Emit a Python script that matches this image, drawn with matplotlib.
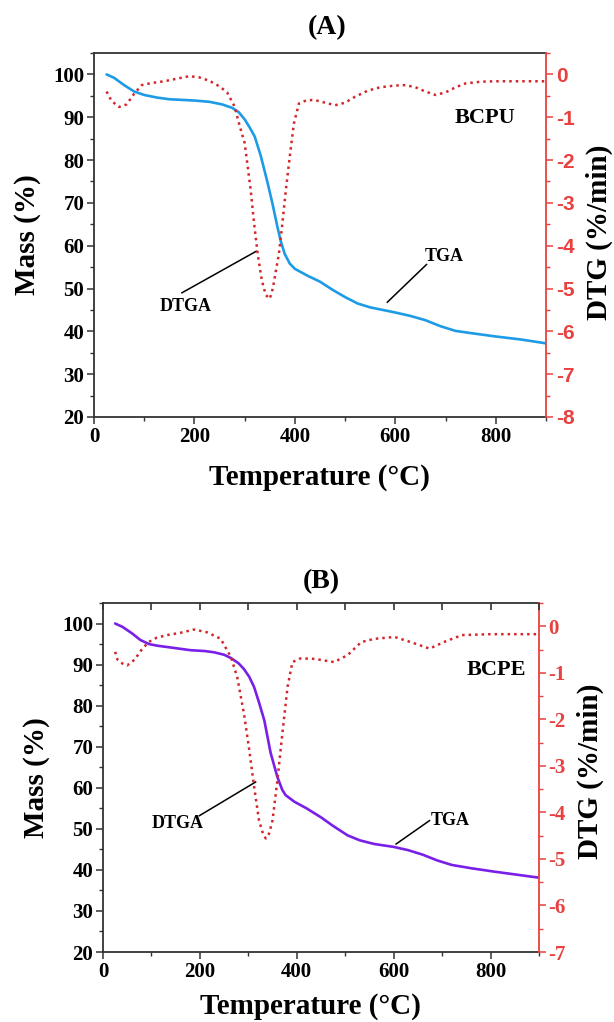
import matplotlib
matplotlib.use("Agg")
import matplotlib.pyplot as plt
from matplotlib.ticker import MultipleLocator

plt.rcParams['font.family'] = ['Liberation Serif', 'DejaVu Serif']
plt.rcParams['font.weight'] = 'bold'
plt.rcParams['axes.unicode_minus'] = False

# ---- panel A: BCPU ----
temp_a = [25, 40, 60, 80, 100, 125, 150, 200, 230, 255, 275, 288, 300, 310, 320,
          332, 345, 355, 365, 372, 380, 390, 400, 425, 450, 475, 500, 525, 550,
          600, 630, 660, 690, 720, 750, 800, 850, 900]
mass_a = [100.0, 99.2, 97.5, 96.0, 95.2, 94.6, 94.2, 93.9, 93.6, 93.0, 92.2, 91.2,
          89.5, 87.6, 85.5, 81.0, 75.0, 70.0, 64.5, 61.0, 58.0, 55.8, 54.6, 53.0,
          51.6, 49.7, 48.0, 46.5, 45.6, 44.4, 43.6, 42.6, 41.2, 40.1, 39.6, 38.8,
          38.1, 37.2]
dtg_t_a = [25, 35, 50, 65, 80, 95, 115, 140, 165, 190, 210, 230, 250, 265, 280,
           290, 300, 312, 319, 326, 334, 342, 350, 356, 362, 368, 374, 382, 390,
           398, 408, 424, 440, 460, 480, 500, 520, 545, 570, 600, 620, 640, 660,
           680, 700, 720, 740, 770, 800, 850, 900]
dtg_a = [-0.40, -0.62, -0.76, -0.70, -0.45, -0.25, -0.20, -0.16, -0.10, -0.04,
         -0.07, -0.15, -0.28, -0.42, -0.75, -1.2, -1.6, -2.7, -3.5, -4.2, -4.8,
         -5.15, -5.24, -5.0, -4.6, -4.2, -3.6, -2.7, -1.9, -1.15, -0.68, -0.60,
         -0.60, -0.66, -0.72, -0.66, -0.52, -0.38, -0.30, -0.26, -0.25, -0.30,
         -0.40, -0.48, -0.42, -0.30, -0.21, -0.17, -0.16, -0.16, -0.16]

# ---- panel B: BCPE ----
temp_b = [25, 40, 60, 77, 95, 112, 150, 181, 210, 229, 250, 264, 280, 291, 302,
          312, 322, 333, 346, 360, 370, 377, 395, 420, 450, 475, 505, 530, 560,
          600, 630, 660, 690, 720, 760, 806, 850, 900]
mass_b = [100.0, 99.2, 97.6, 96.0, 95.0, 94.6, 94.0, 93.5, 93.3, 93.0, 92.4, 91.6,
          90.3, 88.9, 87.0, 84.5, 80.8, 76.4, 68.5, 62.6, 59.5, 58.2, 56.6, 55.0,
          52.8, 50.7, 48.4, 47.2, 46.3, 45.6, 44.8, 43.7, 42.3, 41.2, 40.4, 39.6,
          38.9, 38.1]
dtg_t_b = [25, 30, 40, 50, 65, 80, 94, 110, 132, 160, 188, 215, 243, 264, 277,
           291, 301, 312, 322, 330, 336, 343, 350, 360, 371, 381, 391, 408, 436,
           460, 477, 505, 533, 560, 602, 635, 674, 708, 741, 800, 900]
dtg_b = [-0.55, -0.72, -0.80, -0.84, -0.72, -0.50, -0.34, -0.25, -0.19, -0.14,
         -0.07, -0.13, -0.27, -0.66, -1.09, -1.88, -2.59, -3.45, -4.17, -4.45,
         -4.56, -4.45, -4.17, -3.31, -2.23, -1.30, -0.77, -0.69, -0.70, -0.74,
         -0.77, -0.62, -0.34, -0.27, -0.23, -0.34, -0.48, -0.32, -0.19, -0.17,
         -0.17]

red_axis = '#E8413F'
red_line = '#D3262B'
spine_col = '#333333'

fig = plt.figure(figsize=(6.14, 10.22), dpi=100)


def panel(rect, t, m, dt, d, col, dtg_min, name, name_pos, tga_txt, tga_line,
          dtga_txt, dtga_line, top_ticks, right_family):
    ax = fig.add_axes(rect)
    ax.plot(t, m, color=col, lw=1.9, solid_capstyle='round')
    ax.set_xlim(0, 900)
    ax.set_ylim(20, 105)
    ax.xaxis.set_major_locator(MultipleLocator(200))
    ax.xaxis.set_minor_locator(MultipleLocator(100))
    ax.yaxis.set_minor_locator(MultipleLocator(5))
    ax.set_yticks(range(20, 101, 10))
    ax.tick_params(which='major', direction='out', length=5, width=1.1,
                   color=spine_col, labelsize=15, pad=2)
    ax.tick_params(which='minor', direction='out', length=3, width=1.0,
                   color=spine_col)
    for s in ['left', 'bottom', 'top']:
        ax.spines[s].set_color(spine_col)
        ax.spines[s].set_linewidth(1.3)
    ax.spines['right'].set_visible(False)
    for lab in ax.get_xticklabels() + ax.get_yticklabels():
        lab.set_fontweight('bold')

    ax2 = ax.twinx()
    ax2.plot(dt, d, color=red_line, lw=1.8, linestyle=(0, (1, 1.6)))
    ax2.set_ylim(dtg_min, 0.5)
    ax2.yaxis.set_minor_locator(MultipleLocator(0.5))
    ax2.set_yticks(range(dtg_min, 1))
    for s in ['left', 'bottom', 'top']:
        ax2.spines[s].set_visible(False)
    ax2.spines['right'].set_color(red_axis)
    ax2.spines['right'].set_linewidth(1.3)
    ax2.tick_params(which='major', direction='out', length=5, width=1.1,
                    color=red_axis, labelcolor=red_axis, labelsize=15, pad=2)
    ax2.tick_params(which='minor', direction='out', length=3, width=1.0,
                    color=red_axis)
    for lab in ax2.get_yticklabels():
        lab.set_family(right_family)
        lab.set_fontweight('bold')

    if top_ticks:
        # inward tick marks along the top edge, every 100 °C
        ax3 = ax.twiny()
        ax3.set_xlim(0, 900)
        ax3.xaxis.set_major_locator(MultipleLocator(100))
        ax3.tick_params(axis='x', direction='in', length=5, width=1.2,
                        color=spine_col, labeltop=False)
        for s in ax3.spines.values():
            s.set_visible(False)

    ax.text(name_pos[0], name_pos[1], name, fontsize=16, fontweight='bold',
            ha='center', va='center')
    ax.text(tga_txt[0], tga_txt[1], 'TGA', fontsize=13, fontweight='bold',
            ha='center', va='center')
    ax.plot(tga_line[0], tga_line[1], color='black', lw=1.1)
    ax.text(dtga_txt[0], dtga_txt[1], 'DTGA', fontsize=13, fontweight='bold',
            ha='center', va='center')
    ax.plot(dtga_line[0], dtga_line[1], color='black', lw=1.1)
    return ax


W, H = 614, 1022
rect_a = [94 / W, 1 - 417 / H, (546 - 94) / W, (417 - 53) / H]
rect_b = [103 / W, 1 - 952 / H, (539 - 103) / W, (952 - 603) / H]

panel(rect_a, temp_a, mass_a, dtg_t_a, dtg_a, '#1E9BE6', -8, 'BCPU', (779, 89.9),
      (697, 57.5), ([662, 584], [55.6, 46.8]),
      (183, 45.9), ([175, 323], [49.0, 58.7]), False,
      ['Liberation Sans', 'DejaVu Sans'])
panel(rect_b, temp_b, mass_b, dtg_t_b, dtg_b, '#7A1FE8', -7, 'BCPE', (813, 88.6),
      (717, 52.0), ([674, 605], [52.0, 46.3]),
      (154, 51.2), ([199, 315], [53.2, 61.4]), True,
      ['Liberation Serif', 'DejaVu Serif'])

big = dict(fontsize=21, fontweight='bold', ha='center', va='center')
fig.text(0.532, 0.973, '(A)', fontsize=20, fontweight='bold', ha='center', va='center')
fig.text(0.044, 0.770, 'Mass (%)', rotation=90, **big)
fig.text(0.976, 0.773, 'DTG (%/min)', rotation=90, **big)
fig.text(0.521, 0.533, 'Temperature (°C)', **big)

fig.text(0.523, 0.431, '(B)', fontsize=20, fontweight='bold', ha='center', va='center')
fig.text(0.060, 0.239, 'Mass (%)', rotation=90, **big)
fig.text(0.961, 0.245, 'DTG (%/min)', rotation=90, **big)
fig.text(0.505, 0.015, 'Temperature (°C)', **big)

fig.savefig('out.png', dpi=100)
